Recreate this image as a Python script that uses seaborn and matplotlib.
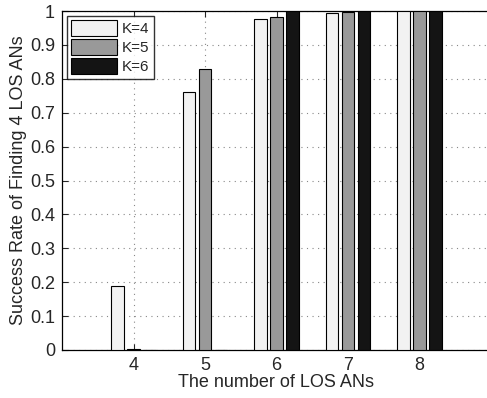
import numpy as np
import pandas as pd
import matplotlib
matplotlib.use("Agg")
import matplotlib.pyplot as plt
import seaborn as sns

# === Data ===
n_los = [4, 5, 6, 7, 8]
k4 = [0.19, 0.76, 0.976, 0.995, 1.0]
k5 = [0.002, 0.83, 0.981, 0.998, 1.0]
k6 = [0.0, 0.0, 1.0, 1.0, 1.0]
series = ["K=4", "K=5", "K=6"]
colors = ["#f2f2f2", "#999999", "#141414"]

df = pd.DataFrame({
    "n": n_los * 3,
    "rate": k4 + k5 + k6,
    "K": [s for s in series for _ in n_los],
})

# === Plot ===
sns.set_style("white")
plt.rcParams["font.family"] = ["Liberation Sans", "DejaVu Sans"]

fig = plt.figure(figsize=(4.87, 3.98), dpi=100)
ax = fig.add_axes([62 / 487, 48 / 398, 429 / 487, 339 / 398])

sns.barplot(data=df, x="n", y="rate", hue="K", palette=colors, width=0.667,
            gap=0.2, edgecolor="black", linewidth=0.8, ax=ax, zorder=3)

ax.set_xlim(-1, 5)
ax.set_ylim(0, 1)
ax.set_yticks(np.arange(0, 1.01, 0.1))
ax.set_yticklabels(["0", "0.1", "0.2", "0.3", "0.4", "0.5", "0.6", "0.7", "0.8", "0.9", "1"])
ax.set_xticks(range(len(n_los)))
ax.set_xticklabels([str(v) for v in n_los])
ax.tick_params(direction="in", length=4, labelsize=13, top=True, right=False,
               left=True, bottom=True, width=0.8, pad=5)
ax.grid(True, linestyle=(0, (1, 4)), color="#888888", linewidth=0.8, zorder=0)
ax.set_axisbelow(True)
for sp in ax.spines.values():
    sp.set_color("black")
    sp.set_linewidth(0.9)

ax.set_xlabel("The number of LOS ANs", fontsize=13, labelpad=0)
ax.set_ylabel("Success Rate of Finding 4 LOS ANs", fontsize=13, labelpad=2)

leg = ax.legend(loc="upper left", fontsize=11, frameon=True, fancybox=False,
                edgecolor="black", handlelength=3.0, handleheight=1.2,
                borderaxespad=0.3, handletextpad=0.3, labelspacing=0.2,
                borderpad=0.3, title=None)
leg.get_frame().set_linewidth(1.0)

fig.savefig("out.png", dpi=100)
